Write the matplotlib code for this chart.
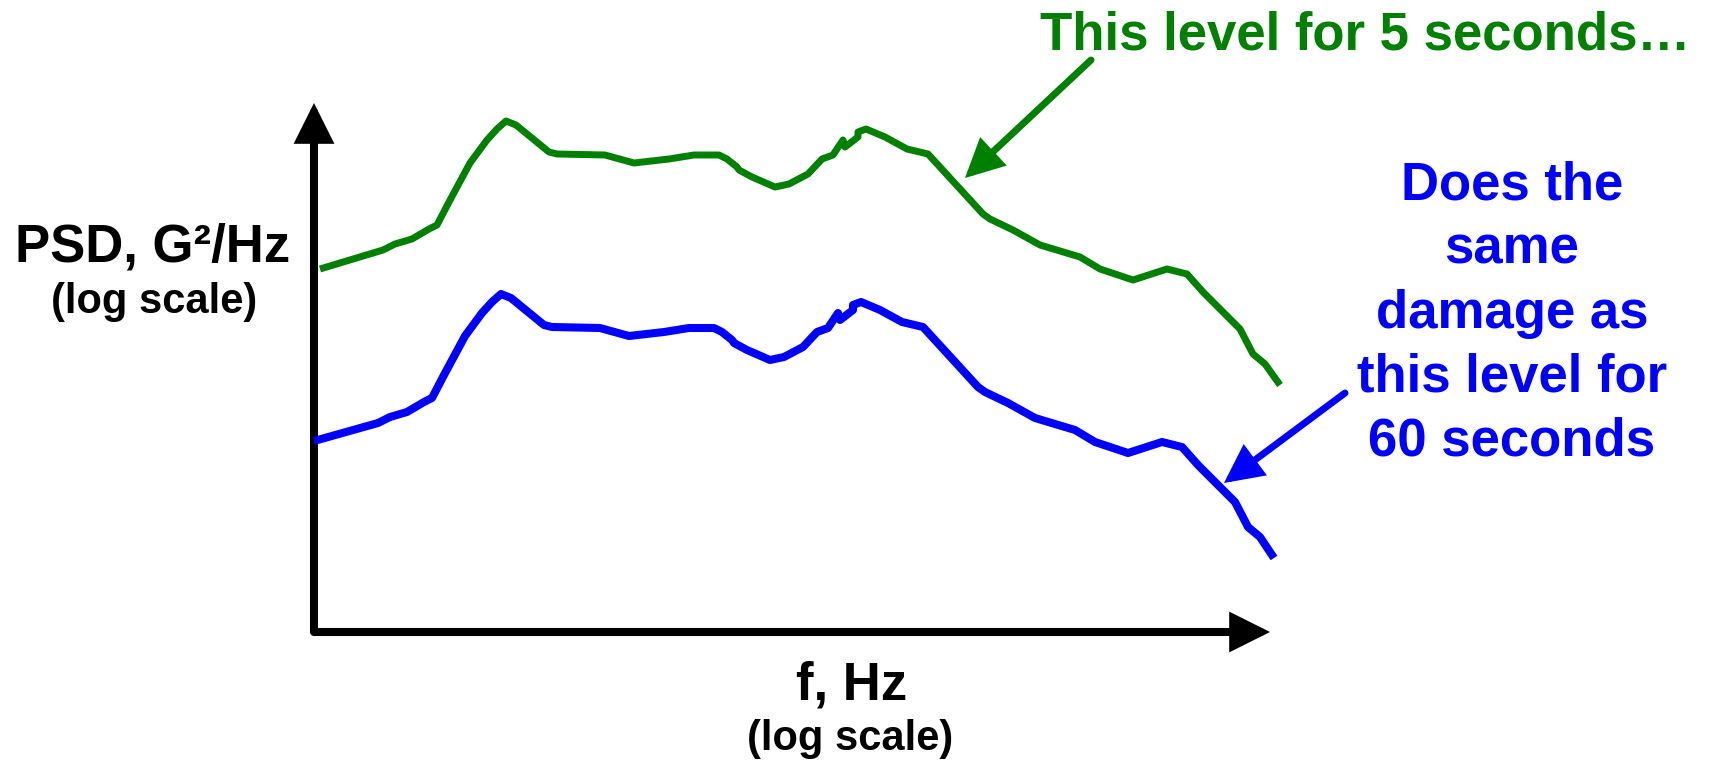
import matplotlib
matplotlib.use('Agg')
import matplotlib.pyplot as plt

plt.rcParams['font.family'] = ['Liberation Sans', 'DejaVu Sans']

# schematic PSD curves, x = log f position, y = log PSD level (arbitrary units)
log_f_5s = [6, 69, 81, 98, 115, 123, 135, 156, 173, 183, 192, 202, 235, 243, 291, 320, 355,
            380, 405, 413, 423, 425, 438, 461, 475, 494, 508, 519, 529, 531, 544, 544,
            552, 571, 593, 614, 669, 676, 699, 726, 766, 786, 819, 853, 873, 889, 926,
            939, 951, 966]
psd_5s = [363, 382, 388, 393, 403, 407, 430, 469, 492, 503, 511, 507, 480, 478, 477, 469, 473,
          477, 477, 473, 465, 462, 455, 445, 448, 458, 473, 477, 492, 485, 495, 500,
          503, 495, 483, 478, 418, 413, 402, 387, 375, 363, 352, 363, 358, 340, 303,
          278, 268, 247]

log_f_60s = [0, 64, 76, 93, 110, 118, 130, 151, 168, 178, 187, 197, 230, 238, 286, 315, 350,
             375, 400, 408, 418, 420, 433, 456, 470, 489, 503, 514, 524, 526, 539, 539,
             547, 566, 588, 609, 664, 671, 694, 721, 761, 781, 814, 848, 868, 884, 921,
             934, 946, 960]
psd_60s = [191, 209, 215, 220, 230, 234, 257, 296, 319, 330, 338, 334, 307, 305, 304, 296, 300,
           304, 304, 300, 292, 289, 282, 272, 275, 285, 300, 304, 319, 312, 322, 327,
           330, 322, 310, 305, 245, 240, 229, 214, 202, 190, 179, 190, 185, 167, 130,
           105, 95, 74]

green = '#008000'
blue = '#0000ff'

fig = plt.figure(figsize=(17.1, 7.62), dpi=100)
ax = fig.add_axes([0, 0, 1, 1])
ax.set_xlim(-314, 1710 - 314)
ax.set_ylim(632 - 762, 632)
ax.axis('off')

# axes drawn as arrows
ax.plot([0, 0, 925], [500, 0, 0], color='black', lw=5.8,
        solid_joinstyle='round', solid_capstyle='butt')
head = '-|>,head_length=2.0,head_width=1.0'
ax.annotate('', xy=(0, 529), xytext=(0, 490),
            arrowprops=dict(arrowstyle=head, color='black', lw=5.8, joinstyle='miter',
                            mutation_scale=10, shrinkA=0, shrinkB=0))
ax.annotate('', xy=(956, 0), xytext=(915, 0),
            arrowprops=dict(arrowstyle=head, color='black', lw=5.8, joinstyle='miter',
                            mutation_scale=10, shrinkA=0, shrinkB=0))

ax.plot(log_f_5s, psd_5s, color=green, lw=5, solid_joinstyle='round', solid_capstyle='butt')
ax.plot(log_f_60s, psd_60s, color=blue, lw=5.8, solid_joinstyle='round', solid_capstyle='butt')

# pointer arrows
ax.annotate('', xy=(651, 454), xytext=(777, 572),
            arrowprops=dict(arrowstyle='-|>,head_length=2.0,head_width=1.0', joinstyle='miter',
                            color=green, lw=5, mutation_scale=10, shrinkA=0, shrinkB=0))
ax.annotate('', xy=(910, 149), xytext=(1031, 239),
            arrowprops=dict(arrowstyle='-|>,head_length=2.0,head_width=1.0', joinstyle='miter',
                            color=blue, lw=5, mutation_scale=10, shrinkA=0, shrinkB=0))

bold = dict(fontweight='bold', ha='center', va='baseline')
ax.text(-161, 370, 'PSD, G²/Hz', fontsize=38, color='black', **bold)
ax.text(-160, 319, '(log scale)', fontsize=30, color='black', **bold)
ax.text(538, -68, 'f, Hz', fontsize=38, color='black', **bold)
ax.text(536, -118, '(log scale)', fontsize=30, color='black', **bold)

ax.text(1051, 583, 'This level for 5 seconds…', fontsize=38, color=green, **bold)

blue_lines = ['Does the', 'same', 'damage as', 'this level for', '60 seconds']
for i, line in enumerate(blue_lines):
    ax.text(1198, 432 - 64 * i, line, fontsize=38, color=blue, **bold)

fig.savefig('out.png', dpi=100)
